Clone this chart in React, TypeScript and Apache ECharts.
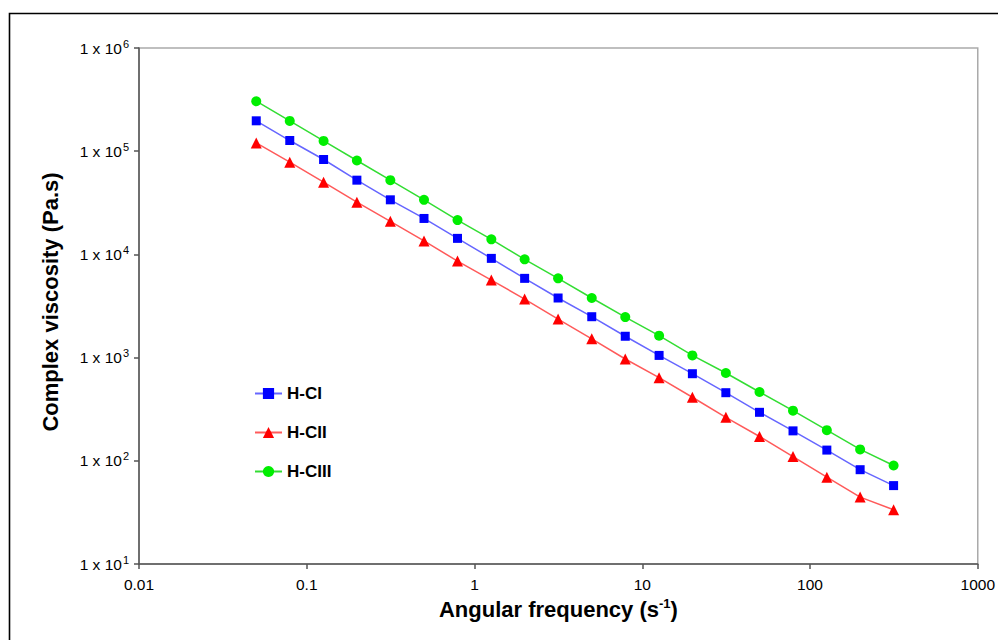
import React, { useEffect, useRef } from "react";
import * as echarts from "echarts";

const seriesNames = ["H-CI", "H-CII", "H-CIII"];
const freq = [0.05, 0.0792, 0.126, 0.199, 0.315, 0.5, 0.792, 1.26, 1.99, 3.15, 5, 7.92, 12.6, 19.9, 31.5, 50, 79.2, 126, 199, 315];
const hci = [197000, 126900, 83100, 52400, 33800, 22300, 14300, 9150, 5860, 3780, 2490, 1610, 1050, 698, 457, 295, 195, 127, 82, 57.5];
const hcii = [120300, 78200, 50100, 32100, 20900, 13500, 8610, 5640, 3690, 2360, 1520, 969, 639, 413, 264, 172, 110, 69.4, 44.5, 33.5];
const hciii = [305000, 196600, 125800, 81300, 52400, 33800, 21500, 14000, 8950, 5860, 3780, 2470, 1630, 1050, 709, 464, 306, 198, 129, 90];
const xTickLabels = ["0.01", "0.1", "1", "10", "100", "1000"];
const yTickExponents = ["1", "2", "3", "4", "5", "6"];
const yTitle = "Complex viscosity (Pa.s)";

const FONT = "'Liberation Sans', Arial, sans-serif";

export default function App() {
  const ref = useRef<HTMLDivElement>(null);
  useEffect(() => {
    document.body.style.margin = "0";
    const chart = echarts.init(ref.current!, null, { renderer: "svg" });
    const pairs = (ys: number[]) => freq.map((f, i) => [f, ys[i]]);
    const mk = (name: string, ys: number[], symbol: string, size: number, mc: string, lc: string) => ({
      name,
      type: "line",
      data: pairs(ys),
      symbol,
      symbolSize: size,
      showSymbol: true,
      itemStyle: { color: mc },
      lineStyle: { color: lc, width: 1.5 },
      z: 3,
    });
    chart.setOption({
      animation: false,
      backgroundColor: "#fff",
      textStyle: { fontFamily: FONT },
      grid: {
        left: 139,
        top: 48,
        right: 17,
        bottom: 76,
        show: true,
        borderColor: "#aaa",
        borderWidth: 1.5,
      },
      graphic: [
        {
          type: "rect",
          shape: { x: 9.5, y: 13.5, width: 1000, height: 700 },
          style: { fill: "none", stroke: "#000", lineWidth: 1.6 },
          silent: true,
        },
        {
          type: "text",
          x: 50,
          y: 302,
          rotation: Math.PI / 2,
          silent: true,
          style: {
            text: yTitle,
            fontFamily: FONT,
            fontSize: 22,
            fontWeight: "bold",
            fill: "#000",
            align: "center",
            verticalAlign: "middle",
          },
        },
      ],
      legend: {
        orient: "vertical",
        left: 254,
        top: 385,
        padding: 0,
        itemWidth: 27,
        itemHeight: 14,
        itemGap: 22,
        textStyle: { fontFamily: FONT, fontSize: 17, fontWeight: "bold", color: "#000" },
        data: seriesNames,
      },
      xAxis: {
        type: "log",
        logBase: 10,
        min: 0.01,
        max: 1000,
        name: "Angular frequency (s{sup|-1})",
        nameLocation: "middle",
        nameGap: 33,
        nameTextStyle: {
          fontFamily: FONT,
          fontSize: 22,
          fontWeight: "bold",
          color: "#000",
          rich: { sup: { fontFamily: FONT, fontSize: 13, fontWeight: "bold", color: "#000", padding: [0, 0, 11, 0] } },
        },
        axisLine: { show: true, lineStyle: { color: "#555", width: 1.5 } },
        axisTick: { show: true, length: 5, lineStyle: { color: "#555", width: 1.5 } },
        axisLabel: {
          margin: 12,
          fontFamily: FONT,
          fontSize: 15.5,
          color: "#000",
          formatter: (v: number) => {
            const i = Math.round(Math.log10(v)) + 2;
            return xTickLabels[i] ?? "";
          },
        },
        splitLine: { show: false },
      },
      yAxis: {
        type: "log",
        logBase: 10,
        min: 10,
        max: 1000000,
        axisLine: { show: true, lineStyle: { color: "#555", width: 1.5 } },
        axisTick: { show: true, length: 5, lineStyle: { color: "#555", width: 1.5 } },
        axisLabel: {
          margin: 10,
          color: "#000",
          formatter: (v: number) => {
            const i = Math.round(Math.log10(v)) - 1;
            return `{a|1 x 10}{b|${yTickExponents[i] ?? ""}}`;
          },
          rich: {
            a: { fontFamily: FONT, fontSize: 15.5, color: "#000" },
            b: { fontFamily: FONT, fontSize: 11, color: "#000", padding: [0, 0, 9, 1] },
          },
        },
        splitLine: { show: false },
      },
      series: [
        mk(seriesNames[0], hci, "rect", 9, "#0000ff", "#6666ff"),
        mk(seriesNames[1], hcii, "triangle", 11, "#ff0000", "#ff5a5a"),
        mk(seriesNames[2], hciii, "circle", 10, "#00ee00", "#33dd33"),
      ],
    });
    return () => chart.dispose();
  }, []);
  return <div ref={ref} style={{ width: 998, height: 640 }} />;
}
